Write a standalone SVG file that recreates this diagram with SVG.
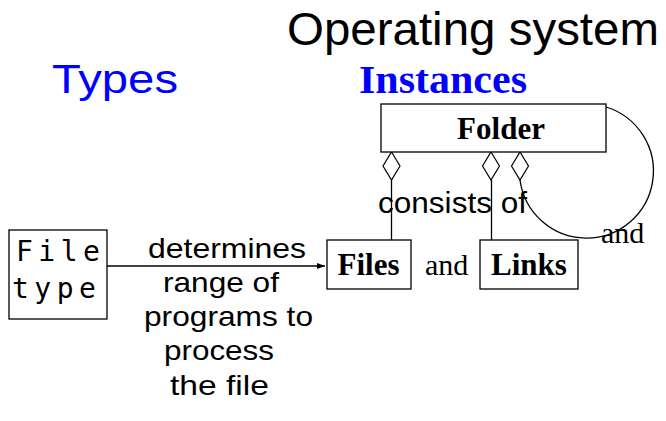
<svg xmlns="http://www.w3.org/2000/svg" width="666" height="421" viewBox="0 0 666 421">
<style>
.box{fill:#fff;stroke:#000;stroke-width:1.3}
.ln{fill:none;stroke:#000;stroke-width:1.3}
.dia{fill:#fff;stroke:#000;stroke-width:1.2}
.sans{font-family:"Liberation Sans",Arial,sans-serif;fill:#000}
.serif{font-family:"Liberation Serif","Times New Roman",serif;fill:#000}
.bold{font-weight:bold}
.blue{fill:#0000ff}
.mono{font-family:"DejaVu Sans Mono",monospace;font-size:28px;letter-spacing:5.5px;fill:#000}
.lbl{font-size:28.5px}
</style>
<defs>
<marker id="arr" viewBox="0 0 8 6" refX="8" refY="3" markerWidth="8" markerHeight="6" markerUnits="userSpaceOnUse" orient="auto">
<path d="M0,0 L8,3 L0,6 Z" fill="#000"/>
</marker>
</defs>
<rect width="666" height="421" fill="#fff"/>
<g id="titles">
<text class="sans" x="287" y="45" font-size="47" textLength="372" lengthAdjust="spacingAndGlyphs">Operating system</text>
<text class="sans blue" x="52" y="93" font-size="40" textLength="126" lengthAdjust="spacingAndGlyphs">Types</text>
<text class="serif bold blue" x="359" y="93" font-size="40" textLength="168" lengthAdjust="spacingAndGlyphs">Instances</text>
</g>
<g id="connectors">
<line class="ln" x1="107" y1="266" x2="325" y2="266" marker-end="url(#arr)"/>
<line class="ln" x1="391.5" y1="180" x2="391.5" y2="240"/>
<line class="ln" x1="491.5" y1="180" x2="491.5" y2="240"/>
<path class="ln" d="M606,107 A67,67 0 1 1 520,180"/>
<path class="dia" d="M391.5,152 L400,166 L391.5,180 L383,166 Z"/>
<path class="dia" d="M491,152 L499.5,166 L491,180 L482.5,166 Z"/>
<path class="dia" d="M520,152 L528.5,166 L520,180 L511.5,166 Z"/>
</g>
<g id="folder">
<rect class="box" x="381" y="104" width="225" height="48"/>
<text class="serif bold" x="501" y="139" font-size="31" text-anchor="middle">Folder</text>
</g>
<g id="files">
<rect class="box" x="327" y="240" width="84" height="49"/>
<text class="serif bold" x="368.5" y="275" font-size="31" text-anchor="middle">Files</text>
</g>
<g id="links">
<rect class="box" x="480" y="240" width="98" height="49"/>
<text class="serif bold" x="529" y="275" font-size="31" text-anchor="middle">Links</text>
</g>
<g id="filetype">
<rect class="box" x="9" y="230" width="98" height="89"/>
<text class="mono" x="16" y="261">File</text>
<text class="mono" x="12" y="298">type</text>
</g>
<g id="labels">
<text class="sans" x="378" y="213" font-size="29" textLength="149" lengthAdjust="spacingAndGlyphs">consists of</text>
<text class="serif" x="601" y="243" font-size="30">and</text>
<text class="serif" x="425" y="275" font-size="30">and</text>
<text class="sans lbl" x="148" y="258" textLength="158" lengthAdjust="spacingAndGlyphs">determines</text>
<text class="sans lbl" x="163" y="292" textLength="116" lengthAdjust="spacingAndGlyphs">range of</text>
<text class="sans lbl" x="144" y="326" textLength="169" lengthAdjust="spacingAndGlyphs">programs to</text>
<text class="sans lbl" x="164" y="360" textLength="110" lengthAdjust="spacingAndGlyphs">process</text>
<text class="sans lbl" x="170" y="395" textLength="99" lengthAdjust="spacingAndGlyphs">the file</text>
</g>
</svg>
